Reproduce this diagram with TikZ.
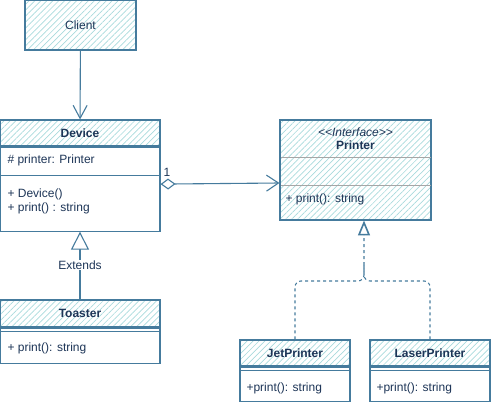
\documentclass[tikz,border=0pt]{standalone}
\usepackage{fontspec}
\setmainfont{Liberation Sans}
\usetikzlibrary{patterns.meta,arrows.meta}
\definecolor{strokec}{HTML}{457B9D}
\definecolor{hatchc}{HTML}{A8DADC}
\definecolor{inkc}{HTML}{1D3557}
\begin{document}
\begin{tikzpicture}[x=1pt,y=-1pt,
  font=\fontsize{12}{14}\selectfont, text=inkc,
  line width=1.1pt,
  hatched/.style={draw=strokec, pattern={Lines[angle=45,distance=4.2pt,line width=0.7pt]}, pattern color=hatchc, inner sep=0pt},
  whitebox/.style={draw=strokec, fill=white, inner sep=0pt},
  sep/.style={draw=strokec, line width=1pt},
  graysep/.style={draw=gray!70, line width=1pt},
  member/.style={anchor=west, inner sep=4pt},
  conn/.style={draw=strokec, line width=1.1pt},
  dashedconn/.style={draw=strokec, line width=1.1pt, dash pattern=on 3pt off 3pt, rounded corners=6pt}
]
\useasboundingbox (0,0) rectangle (491,404);

% Client
\node[hatched, minimum width=111pt, minimum height=50pt] (client) at (80.5,25) {Client};

% Device
\node[hatched, minimum width=160pt, minimum height=26pt] (deviceH) at (80,133) {\bfseries Device};
\node[whitebox, minimum width=160pt, minimum height=84pt, anchor=north] (deviceB) at (deviceH.south) {};
\draw[sep] (0,176) -- (160,176);
\node[member] (devAttr) at (3,160.5) {\# printer: Printer};
\node[member] (devM1) at (3,194) {+ Device()};
\node[member] (devM2) at (3,208.5) {+ print() : string};

% Toaster
\node[hatched, minimum width=160pt, minimum height=27pt] (toasterH) at (80,313.5) {\bfseries Toaster};
\node[whitebox, minimum width=160pt, minimum height=35pt, anchor=north] (toasterB) at (toasterH.south) {};
\draw[sep] (0,331) -- (160,331);
\node[member] (toaM) at (3,348) {+ print(): string};

% Printer
\node[hatched, minimum width=151pt, minimum height=100pt] (printer) at (355.5,170) {};
\draw[graysep] (280.5,158) -- (430.5,158);
\draw[graysep] (280.5,186) -- (430.5,186);
\node (prStereo) at (355.5,132.5) {\itshape <{}<Interface>{}>};
\node (prName) at (355.5,145) {\bfseries Printer};
\node[member] (prM) at (281,199) {+ print(): string};

% JetPrinter
\node[hatched, minimum width=110pt, minimum height=26pt] (jpH) at (295,353) {\bfseries JetPrinter};
\node[whitebox, minimum width=110pt, minimum height=34pt, anchor=north] (jpB) at (jpH.south) {};
\draw[sep] (240,370) -- (350,370);
\node[member] (jpM) at (242,388) {+print(): string};

% LaserPrinter
\node[hatched, minimum width=120pt, minimum height=26pt] (lpH) at (430,353) {\bfseries LaserPrinter};
\node[whitebox, minimum width=120pt, minimum height=34pt, anchor=north] (lpB) at (lpH.south) {};
\draw[sep] (370,370) -- (490,370);
\node[member] (lpM) at (372,388) {+print(): string};

% Client -> Device
\draw[conn, -{Straight Barb[length=13pt,width=14pt]}] (client) -- (deviceH);

% Toaster extends Device
\draw[conn, -{Triangle[length=18pt,width=18pt,fill=white]}] (toasterH) -- (deviceB);
\node[fill=white, inner sep=1pt] (extLbl) at (80,265) {Extends};

% Aggregation Device -> Printer
\draw[conn, {Diamond[length=15pt,width=11pt,fill=white]}-{Straight Barb[length=12pt,width=16pt]}] ([yshift=5pt]deviceB.east) -- ([yshift=-13pt]printer.west);
\node (mult) at (167,172) {1};

% Realization
\coordinate (ptip) at (364,220.5);
\coordinate (pj) at (364,281);
\coordinate (pk) at (364,262);
\draw[dashedconn] (lpH.north) |- (pj) -- (pk);
\draw[dashedconn, -{Triangle[length=15pt,width=12pt,fill=white,line width=1.6pt]}] (jpH.north) |- (pj) -- (ptip);
\end{tikzpicture}
\end{document}
